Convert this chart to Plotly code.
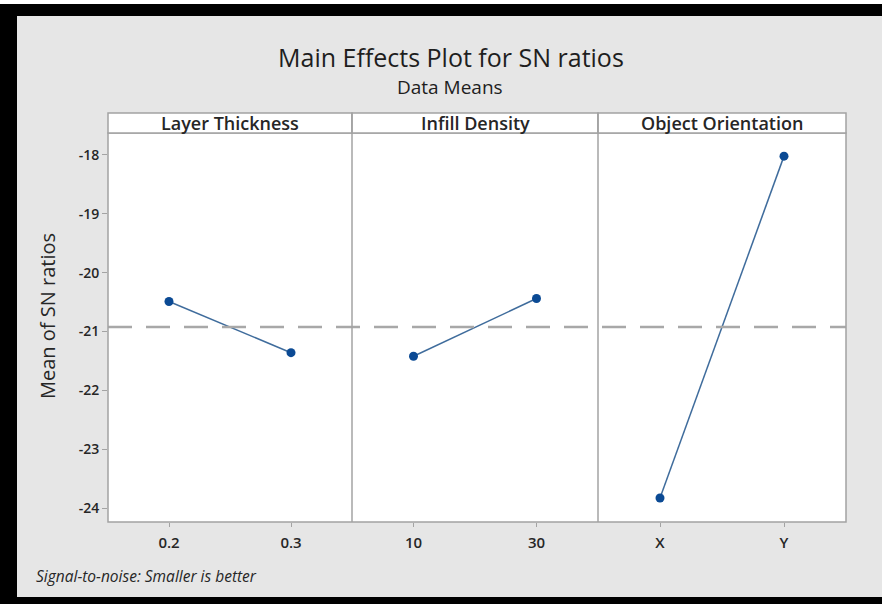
import plotly.graph_objects as go

# ---- data ----
factors = ["Layer Thickness", "Infill Density", "Object Orientation"]
layer_levels = ["0.2", "0.3"]
layer_means = [-20.49, -21.36]
infill_levels = ["10", "30"]
infill_means = [-21.42, -20.44]
orient_levels = ["X", "Y"]
orient_means = [-23.83, -18.02]
overall_mean = -20.925
y_ticks = [-24, -23, -22, -21, -20, -19, -18]

W, H = 882, 604
L, R, T, B = 108, 36, 113, 82
pw, ph = W - L - R, H - T - B

def px_x(px):
    return (px - L) / pw

def px_y(py):
    return (H - B - py) / ph

strip_bottom = px_y(133)
doms = [[0, px_x(352)], [px_x(352), px_x(598)], [px_x(598), 1]]

GRID = "#a3a3a3"
BG = "#e6e6e6"
LINE = "#3f6c9c"
MARK = "#0b4a94"
TXT = "#262626"
FONT = "Open Sans"

fig = go.Figure()
series = [(layer_levels, layer_means), (infill_levels, infill_means), (orient_levels, orient_means)]
for i, (lv, mv) in enumerate(series):
    sfx = "" if i == 0 else str(i + 1)
    fig.add_trace(go.Scatter(
        x=lv, y=mv, mode="lines+markers",
        line=dict(color=LINE, width=1.5),
        marker=dict(color=MARK, size=9),
        xaxis="x" + sfx, yaxis="y" + sfx, showlegend=False, hoverinfo="skip"))

yr = [-24.237, -17.627]
layout = dict(
    width=W, height=H,
    margin=dict(l=L, r=R, t=T, b=B),
    paper_bgcolor=BG, plot_bgcolor="white",
    font=dict(family=FONT, color=TXT),
    showlegend=False,
)
for i in range(3):
    sfx = "" if i == 0 else str(i + 1)
    layout["xaxis" + sfx] = dict(
        domain=doms[i], anchor="y" + sfx, type="category", range=[-0.5, 1.5],
        showline=False, showgrid=False, zeroline=False,
        ticks="outside", ticklen=4, tickcolor=GRID, tickwidth=1,
        tickfont=dict(size=15, color=TXT, family=FONT, weight=600), ticklabelstandoff=3,
    )
    layout["yaxis" + sfx] = dict(
        domain=[0, strip_bottom], anchor="x" + sfx, range=yr,
        tickvals=y_ticks, ticktext=[str(v) for v in y_ticks],
        showticklabels=(i == 0),
        showline=False, showgrid=False, zeroline=False,
        ticks="outside" if i == 0 else "", ticklen=5, tickcolor=GRID, tickwidth=1,
        tickfont=dict(size=14, color=TXT, family=FONT, weight=600),
    )
fig.update_layout(**layout)

shapes = []
# mean reference line
shapes.append(dict(type="line", xref="paper", yref="y", x0=0, x1=1,
                   y0=overall_mean, y1=overall_mean, layer="above",
                   line=dict(color="#a8a8a8", width=2.5, dash="24px,14px")))
# panel frame and dividers
shapes.append(dict(type="rect", xref="paper", yref="paper", x0=0, x1=1, y0=0, y1=strip_bottom,
                   line=dict(color=GRID, width=1.5), fillcolor="rgba(0,0,0,0)"))
# strips
for i, name in enumerate(factors):
    shapes.append(dict(type="rect", xref="paper", yref="paper",
                       x0=doms[i][0], x1=doms[i][1], y0=strip_bottom, y1=1,
                       fillcolor="white", line=dict(color=GRID, width=1.5)))
for d in (doms[1][0], doms[2][0]):
    shapes.append(dict(type="line", xref="paper", yref="paper", x0=d, x1=d, y0=0, y1=1,
                       line=dict(color=GRID, width=1.5)))
# black frame
xl, xr_ = px_x(0), px_x(W)
yt, yb = px_y(0), px_y(H)
shapes.append(dict(type="rect", xref="paper", yref="paper", x0=xl, x1=px_x(17),
                   y0=yb, y1=px_y(4), fillcolor="black", line=dict(width=0)))
shapes.append(dict(type="rect", xref="paper", yref="paper", x0=xl, x1=xr_,
                   y0=px_y(16), y1=px_y(4), fillcolor="black", line=dict(width=0)))
shapes.append(dict(type="rect", xref="paper", yref="paper", x0=xl, x1=xr_,
                   y0=yb, y1=px_y(597), fillcolor="black", line=dict(width=0)))
shapes.append(dict(type="rect", xref="paper", yref="paper", x0=xl, x1=xr_,
                   y0=px_y(4), y1=yt, fillcolor="white", line=dict(width=0)))
fig.update_layout(shapes=shapes)

ann = []
for i, name in enumerate(factors):
    ann.append(dict(text=name, xref="paper", yref="paper",
                    x=(doms[i][0] + doms[i][1]) / 2, y=px_y(123),
                    xanchor="center", yanchor="middle", showarrow=False,
                    font=dict(size=18, color=TXT, family=FONT, weight=600)))
ann.append(dict(text="Main Effects Plot for SN ratios", xref="paper", yref="paper",
                x=px_x(451), y=px_y(57), xanchor="center", yanchor="middle",
                showarrow=False, font=dict(size=25, color="#1e1e1e", family=FONT, weight=500)))
ann.append(dict(text="Data Means", xref="paper", yref="paper",
                x=px_x(450), y=px_y(87), xanchor="center", yanchor="middle",
                showarrow=False, font=dict(size=19, color="#1e1e1e", family=FONT)))
ann.append(dict(text="Mean of SN ratios", xref="paper", yref="paper",
                x=px_x(47), y=px_y(316), xanchor="center", yanchor="middle",
                textangle=-90, showarrow=False,
                font=dict(size=20, color=TXT, family=FONT)))
ann.append(dict(text="<i>Signal-to-noise: Smaller is better</i>", xref="paper", yref="paper",
                x=px_x(34), y=px_y(576), xanchor="left", yanchor="middle",
                showarrow=False, font=dict(size=15.5, color=TXT, family=FONT)))
fig.update_layout(annotations=ann)

fig.write_html("out.html", config={"displayModeBar": False},
               post_script="document.body.style.margin='0px';")
